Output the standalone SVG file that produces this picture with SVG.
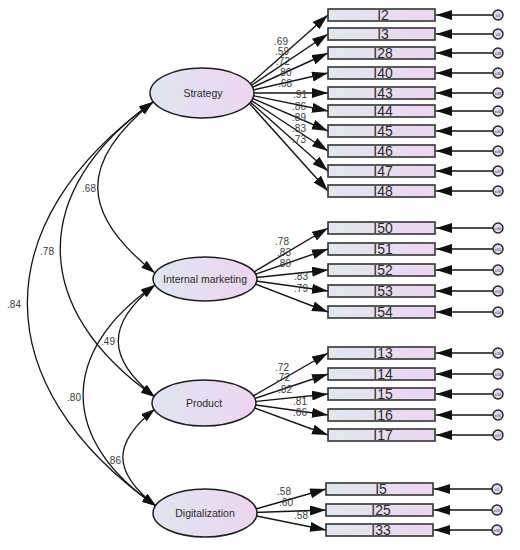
<svg xmlns="http://www.w3.org/2000/svg" width="520" height="550" viewBox="0 0 520 550">
<defs>
<linearGradient id="gr" x1="0" y1="0" x2="1" y2="0"><stop offset="0" stop-color="#e1e8ec"/><stop offset="1" stop-color="#ecd4f2"/></linearGradient>
<linearGradient id="ge" x1="0" y1="0" x2="1" y2="0"><stop offset="0" stop-color="#dfe5f0"/><stop offset="1" stop-color="#eed5f1"/></linearGradient>
<marker id="ah" markerUnits="userSpaceOnUse" markerWidth="18" markerHeight="12" refX="16" refY="5" orient="auto"><path d="M0,0 L16,5 L0,10 z" fill="#111"/></marker>
<marker id="ab" markerUnits="userSpaceOnUse" markerWidth="16" markerHeight="12" refX="14" refY="4.5" orient="auto-start-reverse"><path d="M0,0 L14,4.5 L0,9 z" fill="#111"/></marker>
</defs>
<style>
.ln{stroke:#151515;stroke-width:1.4;fill:none;marker-end:url(#ah)}
.cv{stroke:#151515;stroke-width:1.3;fill:none;marker-start:url(#ab);marker-end:url(#ab)}
.lat{fill:url(#ge);stroke:#1e1e1e;stroke-width:1.5}
.obs{fill:url(#gr);stroke:#333;stroke-width:1.6}
.err{fill:#e2d6ee;stroke:#222;stroke-width:1.4}
.lt{font-family:"Liberation Sans",Arial,sans-serif;font-size:10.5px;fill:#2a2a2a;text-anchor:middle}
.ot{font-family:"Liberation Sans",Arial,sans-serif;font-size:14px;fill:#2a2a2a;text-anchor:middle}
.et{font-family:"Liberation Sans",Arial,sans-serif;font-size:4px;fill:#444;text-anchor:middle}
.nl{font-family:"Liberation Sans",Arial,sans-serif;font-size:10px;fill:#3a3a3a;text-anchor:middle}
</style>
<g id="connectors">
<line class="ln" x1="240" y1="93" x2="328" y2="15"/>
<line class="ln" x1="240" y1="93" x2="328" y2="34"/>
<line class="ln" x1="240" y1="93" x2="328" y2="53"/>
<line class="ln" x1="240" y1="93" x2="328" y2="73"/>
<line class="ln" x1="240" y1="93" x2="328" y2="93"/>
<line class="ln" x1="240" y1="93" x2="328" y2="111"/>
<line class="ln" x1="240" y1="93" x2="328" y2="131"/>
<line class="ln" x1="240" y1="93" x2="328" y2="151"/>
<line class="ln" x1="240" y1="93" x2="328" y2="171"/>
<line class="ln" x1="240" y1="93" x2="328" y2="191"/>
<line class="ln" x1="242" y1="279" x2="328" y2="228"/>
<line class="ln" x1="242" y1="279" x2="328" y2="249"/>
<line class="ln" x1="242" y1="279" x2="328" y2="270"/>
<line class="ln" x1="242" y1="279" x2="328" y2="291"/>
<line class="ln" x1="242" y1="279" x2="328" y2="312"/>
<line class="ln" x1="241" y1="403" x2="328" y2="353"/>
<line class="ln" x1="241" y1="403" x2="328" y2="374"/>
<line class="ln" x1="241" y1="403" x2="328" y2="394"/>
<line class="ln" x1="241" y1="403" x2="328" y2="415"/>
<line class="ln" x1="241" y1="403" x2="328" y2="435"/>
<line class="ln" x1="242" y1="513" x2="326" y2="489"/>
<line class="ln" x1="242" y1="513" x2="326" y2="510"/>
<line class="ln" x1="242" y1="513" x2="326" y2="530"/>
<line class="ln" x1="493" y1="15" x2="436" y2="15"/>
<line class="ln" x1="493" y1="34" x2="436" y2="34"/>
<line class="ln" x1="493" y1="53" x2="436" y2="53"/>
<line class="ln" x1="493" y1="73" x2="436" y2="73"/>
<line class="ln" x1="493" y1="93" x2="436" y2="93"/>
<line class="ln" x1="493" y1="111" x2="436" y2="111"/>
<line class="ln" x1="493" y1="131" x2="436" y2="131"/>
<line class="ln" x1="493" y1="151" x2="436" y2="151"/>
<line class="ln" x1="493" y1="171" x2="436" y2="171"/>
<line class="ln" x1="493" y1="191" x2="436" y2="191"/>
<line class="ln" x1="493" y1="228" x2="436" y2="228"/>
<line class="ln" x1="493" y1="249" x2="436" y2="249"/>
<line class="ln" x1="493" y1="270" x2="436" y2="270"/>
<line class="ln" x1="493" y1="291" x2="436" y2="291"/>
<line class="ln" x1="493" y1="312" x2="436" y2="312"/>
<line class="ln" x1="493" y1="353" x2="436" y2="353"/>
<line class="ln" x1="493" y1="374" x2="436" y2="374"/>
<line class="ln" x1="493" y1="394" x2="436" y2="394"/>
<line class="ln" x1="493" y1="415" x2="436" y2="415"/>
<line class="ln" x1="493" y1="435" x2="436" y2="435"/>
<line class="ln" x1="492" y1="489" x2="434" y2="489"/>
<line class="ln" x1="492" y1="510" x2="434" y2="510"/>
<line class="ln" x1="492" y1="530" x2="434" y2="530"/>
<path class="cv" d="M153,102 C79,162 79,213 155,273"/>
<path class="cv" d="M153,102 C29,190 29,309 155,397"/>
<path class="cv" d="M153,102 C-15,223 -15,385 156,506"/>
<path class="cv" d="M155,285 C106,324 106,358 155,397"/>
<path class="cv" d="M155,285 C59,351 59,440 156,506"/>
<path class="cv" d="M155,409 C112,443 112,472 156,506"/>
</g>
<g id="labels">
<text class="nl" x="281" y="45">.69</text>
<text class="nl" x="282" y="55">.59</text>
<text class="nl" x="283" y="65">.72</text>
<text class="nl" x="284.5" y="76">.80</text>
<text class="nl" x="285" y="87">.68</text>
<text class="nl" x="300" y="98">.91</text>
<text class="nl" x="299" y="110">.86</text>
<text class="nl" x="299" y="121">.89</text>
<text class="nl" x="299" y="132">.83</text>
<text class="nl" x="299" y="143">.73</text>
<text class="nl" x="282" y="245">.78</text>
<text class="nl" x="284" y="256">.83</text>
<text class="nl" x="284" y="267">.80</text>
<text class="nl" x="301" y="280">.83</text>
<text class="nl" x="301" y="292">.79</text>
<text class="nl" x="282" y="370.5">.72</text>
<text class="nl" x="283" y="381">.72</text>
<text class="nl" x="285" y="393">.82</text>
<text class="nl" x="300" y="405">.81</text>
<text class="nl" x="300" y="416">.66</text>
<text class="nl" x="284" y="495">.58</text>
<text class="nl" x="286" y="506">.60</text>
<text class="nl" x="301" y="519">.58</text>
<text class="nl" x="89" y="192">.68</text>
<text class="nl" x="47" y="255">.78</text>
<text class="nl" x="14" y="308">.84</text>
<text class="nl" x="108" y="345">.49</text>
<text class="nl" x="74" y="401">.80</text>
<text class="nl" x="114" y="464">.86</text>
</g>
<g id="Strategy"><ellipse class="lat" cx="202" cy="93" rx="52" ry="25"/><text class="lt" x="203" y="97">Strategy</text></g>
<g id="InternalMarketing"><ellipse class="lat" cx="205" cy="279" rx="52" ry="22"/><text class="lt" x="205" y="283">Internal marketing</text></g>
<g id="Product"><ellipse class="lat" cx="204" cy="403" rx="52" ry="23"/><text class="lt" x="204" y="407">Product</text></g>
<g id="Digitalization"><ellipse class="lat" cx="205" cy="513" rx="52" ry="24"/><text class="lt" x="205" y="517">Digitalization</text></g>
<g id="I2"><rect class="obs" x="328" y="9" width="107" height="12"/><text class="ot" x="383" y="20">I2</text></g>
<g id="I3"><rect class="obs" x="328" y="28" width="107" height="12"/><text class="ot" x="383" y="39">I3</text></g>
<g id="I28"><rect class="obs" x="328" y="47" width="107" height="12"/><text class="ot" x="383" y="58">I28</text></g>
<g id="I40"><rect class="obs" x="328" y="67" width="107" height="12"/><text class="ot" x="383" y="78">I40</text></g>
<g id="I43"><rect class="obs" x="328" y="87" width="107" height="12"/><text class="ot" x="383" y="98">I43</text></g>
<g id="I44"><rect class="obs" x="328" y="105" width="107" height="12"/><text class="ot" x="383" y="116">I44</text></g>
<g id="I45"><rect class="obs" x="328" y="125" width="107" height="12"/><text class="ot" x="383" y="136">I45</text></g>
<g id="I46"><rect class="obs" x="328" y="145" width="107" height="12"/><text class="ot" x="383" y="156">I46</text></g>
<g id="I47"><rect class="obs" x="328" y="165" width="107" height="12"/><text class="ot" x="383" y="176">I47</text></g>
<g id="I48"><rect class="obs" x="328" y="185" width="107" height="12"/><text class="ot" x="383" y="196">I48</text></g>
<g id="I50"><rect class="obs" x="328" y="222" width="107" height="12"/><text class="ot" x="383" y="233">I50</text></g>
<g id="I51"><rect class="obs" x="328" y="243" width="107" height="12"/><text class="ot" x="383" y="254">I51</text></g>
<g id="I52"><rect class="obs" x="328" y="264" width="107" height="12"/><text class="ot" x="383" y="275">I52</text></g>
<g id="I53"><rect class="obs" x="328" y="285" width="107" height="12"/><text class="ot" x="383" y="296">I53</text></g>
<g id="I54"><rect class="obs" x="328" y="306" width="107" height="12"/><text class="ot" x="383" y="317">I54</text></g>
<g id="I13"><rect class="obs" x="328" y="347" width="107" height="12"/><text class="ot" x="383" y="358">I13</text></g>
<g id="I14"><rect class="obs" x="328" y="368" width="107" height="12"/><text class="ot" x="383" y="379">I14</text></g>
<g id="I15"><rect class="obs" x="328" y="388" width="107" height="12"/><text class="ot" x="383" y="399">I15</text></g>
<g id="I16"><rect class="obs" x="328" y="409" width="107" height="12"/><text class="ot" x="383" y="420">I16</text></g>
<g id="I17"><rect class="obs" x="328" y="429" width="107" height="12"/><text class="ot" x="383" y="440">I17</text></g>
<g id="I5"><rect class="obs" x="326" y="483" width="107" height="12"/><text class="ot" x="381" y="494">I5</text></g>
<g id="I25"><rect class="obs" x="326" y="504" width="107" height="12"/><text class="ot" x="381" y="515">I25</text></g>
<g id="I33"><rect class="obs" x="326" y="524" width="107" height="12"/><text class="ot" x="381" y="535">I33</text></g>
<g id="e2"><circle class="err" cx="498" cy="15" r="5"/><text class="et" x="498" y="16.5">e2</text></g>
<g id="e3"><circle class="err" cx="498" cy="34" r="5"/><text class="et" x="498" y="35.5">e3</text></g>
<g id="e28"><circle class="err" cx="498" cy="53" r="5"/><text class="et" x="498" y="54.5">e28</text></g>
<g id="e40"><circle class="err" cx="498" cy="73" r="5"/><text class="et" x="498" y="74.5">e40</text></g>
<g id="e43"><circle class="err" cx="498" cy="93" r="5"/><text class="et" x="498" y="94.5">e43</text></g>
<g id="e44"><circle class="err" cx="498" cy="111" r="5"/><text class="et" x="498" y="112.5">e44</text></g>
<g id="e45"><circle class="err" cx="498" cy="131" r="5"/><text class="et" x="498" y="132.5">e45</text></g>
<g id="e46"><circle class="err" cx="498" cy="151" r="5"/><text class="et" x="498" y="152.5">e46</text></g>
<g id="e47"><circle class="err" cx="498" cy="171" r="5"/><text class="et" x="498" y="172.5">e47</text></g>
<g id="e48"><circle class="err" cx="498" cy="191" r="5"/><text class="et" x="498" y="192.5">e48</text></g>
<g id="e50"><circle class="err" cx="498" cy="228" r="5"/><text class="et" x="498" y="229.5">e50</text></g>
<g id="e51"><circle class="err" cx="498" cy="249" r="5"/><text class="et" x="498" y="250.5">e51</text></g>
<g id="e52"><circle class="err" cx="498" cy="270" r="5"/><text class="et" x="498" y="271.5">e52</text></g>
<g id="e53"><circle class="err" cx="498" cy="291" r="5"/><text class="et" x="498" y="292.5">e53</text></g>
<g id="e54"><circle class="err" cx="498" cy="312" r="5"/><text class="et" x="498" y="313.5">e54</text></g>
<g id="e13"><circle class="err" cx="498" cy="353" r="5"/><text class="et" x="498" y="354.5">e13</text></g>
<g id="e14"><circle class="err" cx="498" cy="374" r="5"/><text class="et" x="498" y="375.5">e14</text></g>
<g id="e15"><circle class="err" cx="498" cy="394" r="5"/><text class="et" x="498" y="395.5">e15</text></g>
<g id="e16"><circle class="err" cx="498" cy="415" r="5"/><text class="et" x="498" y="416.5">e16</text></g>
<g id="e17"><circle class="err" cx="498" cy="435" r="5"/><text class="et" x="498" y="436.5">e17</text></g>
<g id="e5"><circle class="err" cx="497" cy="489" r="5"/><text class="et" x="497" y="490.5">e5</text></g>
<g id="e25"><circle class="err" cx="497" cy="510" r="5"/><text class="et" x="497" y="511.5">e25</text></g>
<g id="e33"><circle class="err" cx="497" cy="530" r="5"/><text class="et" x="497" y="531.5">e33</text></g>
</svg>
